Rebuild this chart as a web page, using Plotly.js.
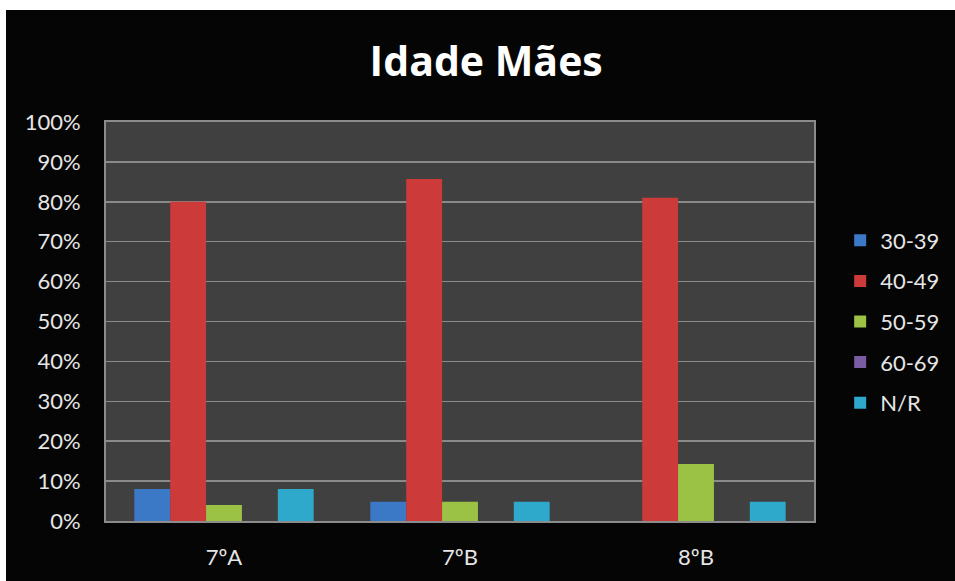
<!DOCTYPE html>
<html>
<head>
<meta charset="utf-8">
<script src="https://cdn.plot.ly/plotly-3.0.1.min.js"></script>
<style>
html,body{margin:0;padding:0;background:#ffffff;}
#chart{position:absolute;left:6px;top:10px;width:949px;height:571px;background:#050505;}
</style>
</head>
<body>
<div id="chart"></div>
<script>
const categories = ['7ºA', '7ºB', '8ºB'];
const seriesNames = ['30-39', '40-49', '50-59', '60-69', 'N/R'];
const s30_39 = [0.08, 0.048, 0];
const s40_49 = [0.80, 0.857, 0.81];
const s50_59 = [0.04, 0.048, 0.143];
const s60_69 = [0, 0, 0];
const sNR = [0.08, 0.048, 0.048];
const tickVals = [0, 0.1, 0.2, 0.3, 0.4, 0.5, 0.6, 0.7, 0.8, 0.9, 1.0];
const tickText = ['0%', '10%', '20%', '30%', '40%', '50%', '60%', '70%', '80%', '90%', '100%'];

const colors = ['#3b78c6', '#cc3a3a', '#9cc245', '#7a5ca3', '#2fa9cb'];
const values = [s30_39, s40_49, s50_59, s60_69, sNR];

const traces = seriesNames.map((n, i) => ({
  type: 'bar',
  name: n,
  x: categories,
  y: values[i],
  legendgroup: 'g' + i,
  marker: {color: colors[i], line: {width: 0}},
  hoverinfo: 'x+y+name'
}));

const tf = {family: 'Lato, sans-serif', size: 22, color: '#e6e6e6'};

const layout = {
  width: 949, height: 571,
  paper_bgcolor: '#050505',
  plot_bgcolor: '#404040',
  margin: {l: 100, r: 141, t: 112, b: 60, autoexpand: false},
  title: {text: '<b>Idade Mães</b>', x: 0.506, xref: 'container', y: 0.91, yref: 'container', yanchor: 'middle',
    font: {family: 'Open Sans, sans-serif', size: 41, color: '#ffffff'}},
  barmode: 'group',
  bargap: 0.24,
  bargroupgap: 0,
  xaxis: {
    tickfont: tf,
    showline: true, linecolor: '#8c8c8c', linewidth: 2, mirror: true,
    ticks: '', ticklen: 0, showgrid: false, ticklabelstandoff: 16
  },
  yaxis: {
    range: [0, 1], tickvals: tickVals, ticktext: tickText,
    tickfont: tf,
    showgrid: true, gridcolor: '#8a8a8a', gridwidth: 1.5,
    showline: true, linecolor: '#8c8c8c', linewidth: 2, mirror: true,
    zeroline: false, ticks: '', ticklabelstandoff: 19
  },
  legend: {
    xref: 'container', x: 0.879, xanchor: 'left', y: 0.5, yanchor: 'middle',
    font: tf,
    tracegroupgap: 9, bgcolor: 'rgba(0,0,0,0)', itemwidth: 30
  },
  showlegend: true
};

Plotly.newPlot('chart', traces, layout, {displayModeBar: false, staticPlot: true});
</script>
</body>
</html>
